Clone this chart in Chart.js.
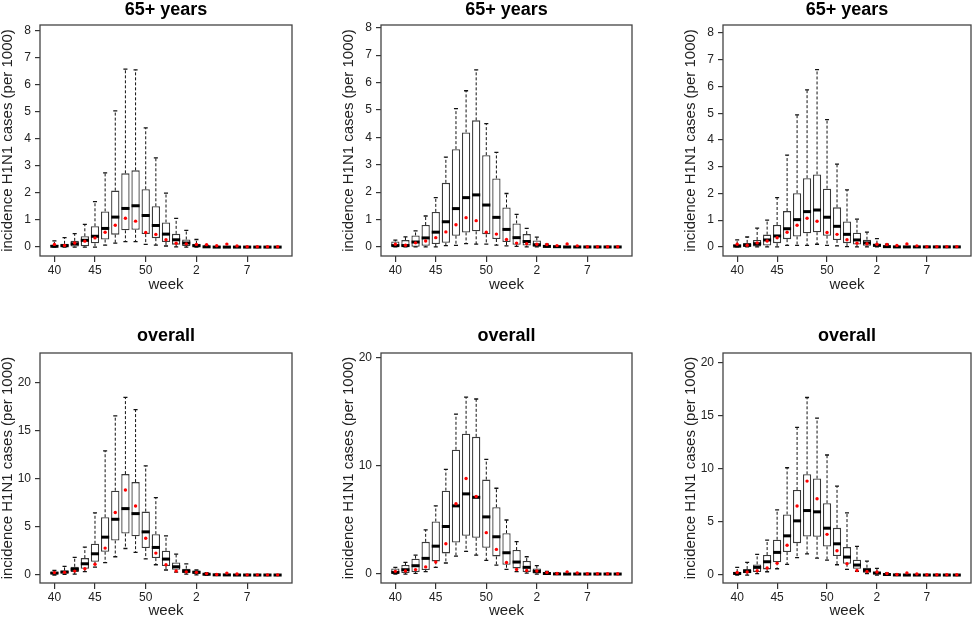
<!DOCTYPE html>
<html>
<head>
<meta charset="utf-8">
<script src="https://cdn.jsdelivr.net/npm/chart.js@4.4.1/dist/chart.umd.min.js"></script>
<style>
    body { margin: 0; background: #fff; overflow: hidden; }
    #wrap { position: relative; width: 975px; height: 618px; }
    .cell { position: absolute; width: 325px; height: 309px; }
</style>
</head>
<body>
<div id="wrap">
    <div class="cell" style="left:0;top:0"><canvas id="c1" width="325" height="309"></canvas></div>
    <div class="cell" style="left:325px;top:0"><canvas id="c2" width="325" height="309"></canvas></div>
    <div class="cell" style="left:650px;top:0"><canvas id="c3" width="325" height="309"></canvas></div>
    <div class="cell" style="left:0;top:309px"><canvas id="c4" width="325" height="309"></canvas></div>
    <div class="cell" style="left:325px;top:309px"><canvas id="c5" width="325" height="309"></canvas></div>
    <div class="cell" style="left:650px;top:309px"><canvas id="c6" width="325" height="309"></canvas></div>
</div>
<script>
// ----- DATA ----- //
const boxPos = [1, 2, 3, 4, 5, 6, 7, 8, 9, 10, 11, 12, 13, 14, 15, 16, 17, 18, 19, 20, 21, 22, 23];
const weekTickPos = [1, 5, 10, 15, 20];
const weekTickText = ['40', '45', '50', '2', '7'];
const yTicksAge = [0, 1, 2, 3, 4, 5, 6, 7, 8];
const yTicksFive = [0, 5, 10, 15, 20];
const yTicksTen = [0, 10, 20];

// observed incidence (red dots), same in every panel of a row
const obsAge = [0.10, 0.06, 0.15, 0.22, 0.34, 0.55, 0.81, 1.07, 0.96, 0.54, 0.47, 0.27, 0.14, 0.12, 0.10, 0.09, 0.05, 0.11, 0.04, 0.01, 0.01, 0.01, 0.01];
const obsAll = [0.25, 0.28, 0.41, 0.66, 1.12, 2.80, 6.50, 8.84, 7.18, 3.83, 2.28, 1.07, 0.42, 0.33, 0.28, 0.15, 0.05, 0.20, 0.10, 0.02, 0.02, 0.02, 0.02];

// panel 1 (65+ years)
const aMin = [0, 0, 0, 0, 0, 0.07, 0.15, 0.2, 0.2, 0.1, 0.07, 0.04, 0.01, 0, 0, 0, 0, 0, 0, 0, 0, 0, 0];
const aQ1 = [0, 0.01, 0.02, 0.03, 0.14, 0.28, 0.46, 0.62, 0.64, 0.48, 0.33, 0.19, 0.09, 0.04, 0.01, 0, 0, 0, 0, 0, 0, 0, 0];
const aMed = [0.03, 0.05, 0.12, 0.25, 0.4, 0.69, 1.11, 1.43, 1.53, 1.17, 0.8, 0.48, 0.27, 0.15, 0.05, 0.01, 0, 0, 0, 0, 0, 0, 0];
const aQ3 = [0.08, 0.12, 0.23, 0.4, 0.77, 1.32, 2.09, 2.73, 2.84, 2.14, 1.51, 0.91, 0.49, 0.28, 0.12, 0.03, 0.01, 0, 0, 0, 0, 0, 0];
const aMax = [0.23, 0.35, 0.5, 0.84, 1.68, 2.75, 5.04, 6.59, 6.56, 4.41, 3.3, 2.0, 1.06, 0.62, 0.28, 0.06, 0.02, 0.01, 0, 0, 0, 0, 0];

// panel 2 (65+ years)
const bMin = [0, 0, 0, 0, 0, 0.05, 0.06, 0.12, 0.1, 0.1, 0.07, 0.04, 0.02, 0, 0, 0, 0, 0, 0, 0, 0, 0, 0];
const bQ1 = [0, 0.01, 0.01, 0.04, 0.11, 0.15, 0.41, 0.53, 0.57, 0.46, 0.29, 0.18, 0.08, 0.05, 0.01, 0, 0, 0, 0, 0, 0, 0, 0];
const bMed = [0.05, 0.05, 0.18, 0.33, 0.54, 0.92, 1.4, 1.8, 1.9, 1.53, 1.08, 0.64, 0.34, 0.2, 0.08, 0.02, 0.01, 0, 0, 0, 0, 0, 0];
const bQ3 = [0.2, 0.25, 0.42, 0.8, 1.28, 2.34, 3.57, 4.18, 4.62, 3.35, 2.5, 1.44, 0.86, 0.47, 0.24, 0.06, 0.02, 0, 0, 0, 0, 0, 0];
const bMax = [0.25, 0.37, 0.59, 1.13, 1.8, 3.28, 5.05, 5.7, 6.46, 4.5, 3.45, 1.95, 1.19, 0.68, 0.36, 0.1, 0.04, 0.01, 0, 0, 0, 0, 0];

// panel 3 (65+ years)
const cMin = [0, 0, 0, 0, 0, 0.06, 0.06, 0.06, 0.1, 0.06, 0.04, 0.01, 0, 0, 0, 0, 0, 0, 0, 0, 0, 0, 0];
const cQ1 = [0, 0.01, 0.02, 0.05, 0.14, 0.29, 0.39, 0.51, 0.55, 0.42, 0.26, 0.14, 0.09, 0.04, 0.01, 0, 0, 0, 0, 0, 0, 0, 0];
const cMed = [0.03, 0.06, 0.12, 0.26, 0.41, 0.68, 1.02, 1.32, 1.38, 1.11, 0.77, 0.47, 0.26, 0.15, 0.06, 0.01, 0, 0, 0, 0, 0, 0, 0];
const cQ3 = [0.1, 0.15, 0.26, 0.46, 0.82, 1.34, 2.01, 2.57, 2.71, 2.18, 1.48, 0.95, 0.53, 0.27, 0.12, 0.04, 0.01, 0, 0, 0, 0, 0, 0];
const cMax = [0.26, 0.37, 0.7, 1.0, 1.84, 3.43, 4.94, 5.87, 6.63, 4.76, 3.1, 2.13, 1.04, 0.55, 0.31, 0.1, 0.03, 0.01, 0, 0, 0, 0, 0];

// panel 4 (overall)
const dMin = [0, 0.07, 0.1, 0.35, 0.83, 1.28, 1.9, 2.76, 2.35, 1.69, 1.07, 0.52, 0.31, 0.1, 0.02, 0, 0, 0, 0, 0, 0, 0, 0];
const dQ1 = [0.07, 0.17, 0.31, 0.66, 1.38, 2.42, 3.59, 4.32, 4.04, 2.8, 1.76, 0.93, 0.55, 0.21, 0.14, 0.03, 0, 0, 0, 0, 0, 0, 0];
const dMed = [0.2, 0.31, 0.59, 1.17, 2.21, 3.94, 5.8, 6.91, 6.39, 4.49, 2.87, 1.66, 0.86, 0.41, 0.28, 0.08, 0.02, 0.01, 0, 0, 0, 0, 0];
const dQ3 = [0.35, 0.48, 0.86, 1.76, 3.25, 6.01, 8.77, 10.5, 9.67, 6.6, 4.25, 2.52, 1.31, 0.66, 0.48, 0.15, 0.05, 0.02, 0.01, 0, 0, 0, 0];
const dMax = [0.48, 0.9, 1.83, 2.9, 6.46, 12.92, 16.55, 18.48, 17.2, 11.36, 8.05, 4.08, 2.18, 1.17, 0.52, 0.25, 0.1, 0.05, 0.02, 0, 0, 0, 0];

// panel 5 (overall)
const eMin = [0, 0, 0.06, 0.22, 0.62, 1.02, 1.66, 2.09, 1.75, 1.26, 0.83, 0.43, 0.22, 0.09, 0, 0, 0, 0, 0, 0, 0, 0, 0];
const eQ1 = [0, 0.09, 0.18, 0.37, 1.17, 1.91, 2.92, 3.54, 3.35, 2.43, 1.63, 0.86, 0.52, 0.18, 0.06, 0, 0, 0, 0, 0, 0, 0, 0];
const eMed = [0.15, 0.4, 0.77, 1.45, 2.58, 4.4, 6.31, 7.42, 7.1, 5.29, 3.45, 1.97, 1.11, 0.62, 0.25, 0.05, 0.01, 0, 0, 0, 0, 0, 0];
const eQ3 = [0.52, 0.83, 1.42, 2.98, 4.86, 7.72, 11.5, 12.98, 12.7, 8.74, 6.18, 3.78, 2.22, 1.2, 0.52, 0.15, 0.04, 0.01, 0, 0, 0, 0, 0];
const eMax = [0.62, 1.08, 1.75, 4.09, 6.31, 9.69, 14.8, 16.37, 16.2, 10.62, 7.94, 5.0, 3.0, 1.6, 0.77, 0.25, 0.1, 0.03, 0, 0, 0, 0, 0];

// panel 6 (overall)
const fMin = [0, 0, 0.13, 0.31, 0.59, 1.0, 1.63, 2.0, 1.6, 1.41, 0.97, 0.53, 0.34, 0.13, 0, 0, 0, 0, 0, 0, 0, 0, 0];
const fQ1 = [0.03, 0.16, 0.28, 0.53, 1.2, 2.16, 3.0, 3.63, 3.6, 2.69, 1.78, 1.06, 0.59, 0.22, 0.06, 0.02, 0, 0, 0, 0, 0, 0, 0];
const fMed = [0.15, 0.34, 0.72, 1.25, 2.13, 3.69, 5.1, 6.07, 5.95, 4.41, 2.94, 1.69, 0.94, 0.44, 0.19, 0.05, 0.01, 0, 0, 0, 0, 0, 0];
const fQ3 = [0.28, 0.56, 1.0, 1.88, 3.32, 5.7, 8.01, 9.48, 9.08, 6.76, 4.44, 2.63, 1.44, 0.69, 0.31, 0.1, 0.03, 0.01, 0, 0, 0, 0, 0];
const fMax = [0.72, 1.19, 1.94, 3.29, 6.13, 10.1, 13.9, 16.71, 14.77, 11.3, 8.36, 5.85, 2.69, 1.31, 0.63, 0.2, 0.08, 0.03, 0, 0, 0, 0, 0];

const FONT = "'Liberation Sans', Arial, sans-serif";
const INK = '#222';

// ----- whiskers, medians and frame, drawn right after the boxes ----- //
const boxParts = {
    id: 'boxParts',
    afterDatasetDraw(chart, args, opts) {
        if (args.index !== 0) return;
        const { ctx, chartArea: a, scales: { x, y } } = chart;
        const unit = x.getPixelForValue(1) - x.getPixelForValue(0);
        ctx.save();
        boxPos.forEach((p, i) => {
            const cx = x.getPixelForValue(p);
            // dashed whiskers
            ctx.strokeStyle = '#111';
            ctx.lineWidth = 1;
            ctx.setLineDash([3, 2]);
            ctx.beginPath();
            ctx.moveTo(cx, y.getPixelForValue(opts.q3[i]));
            ctx.lineTo(cx, y.getPixelForValue(opts.max[i]));
            ctx.moveTo(cx, y.getPixelForValue(opts.q1[i]));
            ctx.lineTo(cx, y.getPixelForValue(opts.min[i]));
            ctx.stroke();
            // staples
            ctx.setLineDash([]);
            ctx.lineWidth = 1.3;
            ctx.beginPath();
            [opts.max[i], opts.min[i]].forEach(v => {
                const py = y.getPixelForValue(v);
                ctx.moveTo(cx - unit * 0.2, py);
                ctx.lineTo(cx + unit * 0.2, py);
            });
            ctx.stroke();
            // median
            ctx.strokeStyle = '#000';
            ctx.lineWidth = 3;
            ctx.beginPath();
            const my = y.getPixelForValue(opts.med[i]);
            ctx.moveTo(cx - unit * 0.4, my);
            ctx.lineTo(cx + unit * 0.4, my);
            ctx.stroke();
        });
        // plot frame
        ctx.strokeStyle = '#444';
        ctx.lineWidth = 1.3;
        ctx.strokeRect(a.left, a.top, a.right - a.left, a.bottom - a.top);
        ctx.restore();
    }
};

function makePanel(id, p) {
    new Chart(document.getElementById(id), {
        type: 'bar',
        data: {
            datasets: [{
                type: 'bar',
                data: boxPos.map((x, i) => ({ x: x, y: [p.q1[i], p.q3[i]] })),
                backgroundColor: '#fff',
                borderColor: '#3a3a3a',
                borderWidth: 1.3,
                borderSkipped: false,
                barPercentage: 0.82,
                categoryPercentage: 1,
                order: 2
            }, {
                type: 'scatter',
                data: boxPos.map((x, i) => ({ x: x, y: p.obs[i] })),
                pointRadius: 1.7,
                pointBackgroundColor: '#ff0000',
                pointBorderWidth: 0,
                order: 0
            }]
        },
        options: {
            responsive: false,
            animation: false,
            layout: { padding: { left: p.left - 40, right: 325 - p.right, top: 0, bottom: p.padBottom } },
            plugins: {
                legend: { display: false },
                tooltip: { enabled: false },
                title: {
                    display: true,
                    fullSize: false,
                    text: p.title,
                    color: '#000',
                    font: { family: FONT, size: 18, weight: 'bold', lineHeight: 0.85 },
                    padding: { top: p.titleTop, bottom: p.top - p.titleTop - 15.3 }
                },
                boxParts: p
            },
            scales: {
                x: {
                    type: 'linear',
                    min: -0.42,
                    max: 24.42,
                    offset: false,
                    afterBuildTicks: s => { s.ticks = weekTickPos.map(v => ({ value: v })); },
                    afterFit: s => { s.height = p.xAxisH; },
                    ticks: {
                        autoSkip: false,
                        maxRotation: 0,
                        padding: 1,
                        color: INK,
                        font: { family: FONT, size: 12 },
                        callback: v => weekTickText[weekTickPos.indexOf(v)]
                    },
                    grid: { offset: false, drawOnChartArea: false, drawTicks: true, tickLength: 6, color: '#333', lineWidth: 1.2 },
                    border: { display: false },
                    title: { display: true, text: 'week', color: INK, font: { family: FONT, size: 15, lineHeight: 1 }, padding: { top: 0, bottom: 0 } }
                },
                y: {
                    min: p.yMin,
                    max: p.yMax,
                    afterBuildTicks: s => { s.ticks = p.yTicks.map(v => ({ value: v })); },
                    afterFit: s => { s.width = 40; },
                    ticks: { padding: 4, color: INK, font: { family: FONT, size: 12 } },
                    grid: { drawOnChartArea: false, drawTicks: true, tickLength: 5, color: '#333', lineWidth: 1.2 },
                    border: { display: false },
                    title: { display: true, text: 'incidence H1N1 cases (per 1000)', color: INK, font: { family: FONT, size: 15, lineHeight: 1 }, padding: { top: 0.5, bottom: 0 } }
                }
            }
        },
        plugins: [boxParts]
    });
}

const topRow = { title: '65+ years', titleTop: 2, top: 25, xAxisH: 36, padBottom: 309 - 256 - 36, obs: obsAge, yTicks: yTicksAge };
const bottomRow = { title: 'overall', titleTop: 19, top: 44, xAxisH: 35, padBottom: 0, obs: obsAll };

makePanel('c1', Object.assign({}, topRow, { left: 40, right: 292, yMin: -0.33, yMax: 8.22, min: aMin, q1: aQ1, med: aMed, q3: aQ3, max: aMax }));
makePanel('c2', Object.assign({}, topRow, { left: 56, right: 307, yMin: -0.33, yMax: 8.1, min: bMin, q1: bQ1, med: bMed, q3: bQ3, max: bMax }));
makePanel('c3', Object.assign({}, topRow, { left: 73, right: 324, yMin: -0.34, yMax: 8.3, min: cMin, q1: cQ1, med: cMed, q3: cQ3, max: cMax }));
makePanel('c4', Object.assign({}, bottomRow, { left: 40, right: 292, yMin: -0.83, yMax: 23.1, yTicks: yTicksFive, min: dMin, q1: dQ1, med: dMed, q3: dQ3, max: dMax }));
makePanel('c5', Object.assign({}, bottomRow, { left: 56, right: 307, yMin: -0.83, yMax: 20.46, yTicks: yTicksTen, min: eMin, q1: eQ1, med: eMed, q3: eQ3, max: eMax }));
makePanel('c6', Object.assign({}, bottomRow, { left: 73, right: 324, yMin: -0.75, yMax: 20.9, yTicks: yTicksFive, min: fMin, q1: fQ1, med: fMed, q3: fQ3, max: fMax }));
</script>
</body>
</html>
